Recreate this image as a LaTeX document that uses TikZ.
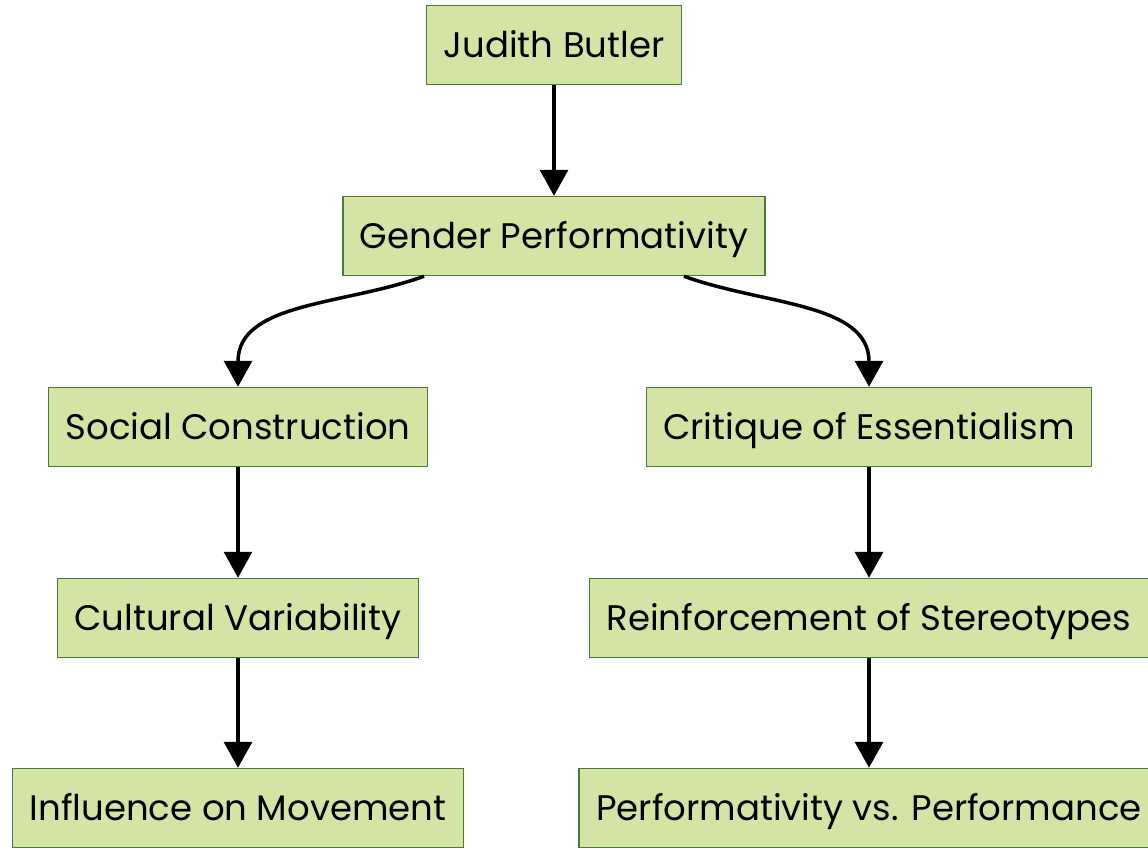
\documentclass[tikz,border=0pt]{standalone}
\usepackage{fontspec}
\setmainfont{Poppins}
\usetikzlibrary{arrows.meta}
\definecolor{boxfill}{HTML}{D4E4A4}
\definecolor{boxline}{HTML}{4C7A34}
\begin{document}
\begin{tikzpicture}[x=1pt,y=-1pt,
	concept/.style = {draw=boxline,line width=1.5pt,fill=boxfill,minimum height=79pt,inner xsep=17pt,inner ysep=0pt,text height=31pt,text depth=6pt,font=\fontsize{35.5}{42}\selectfont},
	link/.style = {line width=3.5pt,-{Triangle[length=26pt,width=28pt]}}]
			\clip (0,0) rectangle (1148,847);
			\node[concept] (butler) at (554,45) {Judith Butler};
			\node[concept] (gender) at (554,236) {Gender Performativity};
			\node[concept] (social) at (238,427) {Social Construction};
			\node[concept] (critique) at (869,427) {Critique of Essentialism};
			\node[concept] (cultural) at (238,618) {Cultural Variability};
			\node[concept] (stereo) at (869,618) {Reinforcement of Stereotypes};
			\node[concept] (movement) at (238,808) {Influence on Movement};
			\node[concept] (perform) at (869,808) {Performativity vs. Performance};
			\draw[link] (butler)--(gender);
			\draw[link] (gender.south -| 424,0) to[out=-160,in=90] (social.north);
			\draw[link] (gender.south -| 684,0) to[out=-20,in=90] (critique.north);
			\draw[link] (social)--(cultural);
			\draw[link] (cultural)--(movement);
			\draw[link] (critique)--(stereo);
			\draw[link] (stereo)--(perform);
		\end{tikzpicture}
\end{document}
